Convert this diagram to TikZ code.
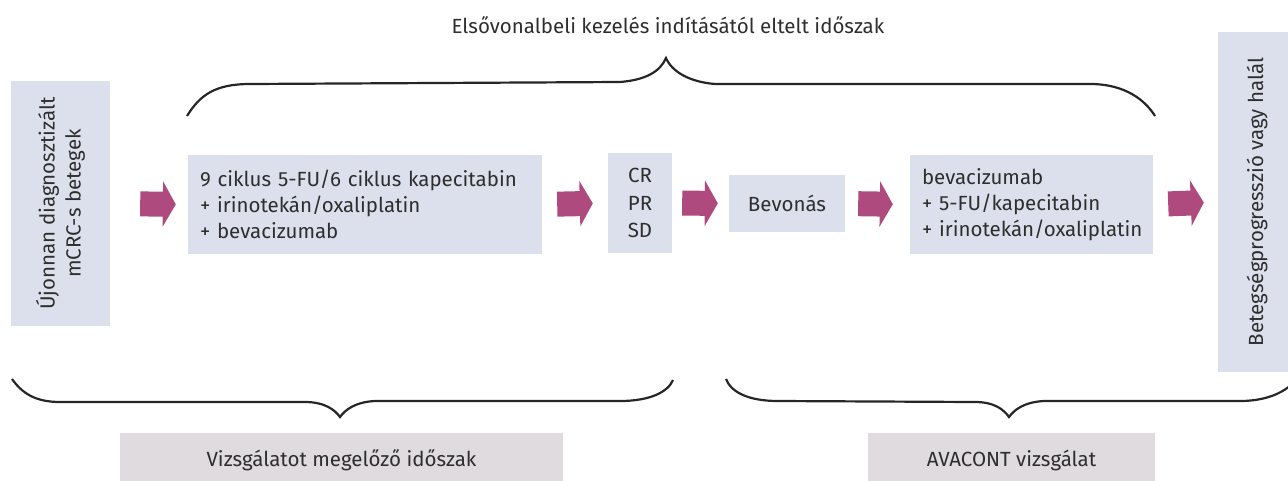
\documentclass[tikz,border=0pt]{standalone}
\usepackage{fontspec}
\setmainfont{Fira Sans}
\usetikzlibrary{arrows.meta}
\definecolor{boxblue}{HTML}{DCE0EC}
\definecolor{boxrose}{HTML}{E0DBDF}
\definecolor{arrowmag}{HTML}{AE4A7E}
\definecolor{txt}{HTML}{2E2E2E}

\begin{document}
\begin{tikzpicture}[x=1pt, y=-1pt, text=txt,
  font=\fontsize{20.5}{26}\selectfont,
  box/.style={fill=boxblue, inner sep=0pt},
  label box/.style={fill=boxrose, inner sep=0pt, minimum height=54pt},
  bigarrow/.style={arrowmag, line width=25pt,
    -{Triangle[length=13pt, width=45pt]}},
  curly/.style={line width=2.2pt, black!85}]
\useasboundingbox (0,0) rectangle (1288,480);

\node [box, rotate=90, minimum width=245pt, minimum height=99pt, align=center] (b1) at (60.5,203.5) {Újonnan diagnosztizált\\mCRC-s betegek};
\node [box, minimum width=354pt, minimum height=99pt, text width=330pt, align=left] (b2) at (365,204.5) {9~ciklus 5-FU/6 ciklus kapecitabin\\+~irinotekán/oxaliplatin\\+~bevacizumab};
\node [box, minimum width=64pt, minimum height=100pt, align=center, font=\fontsize{20.5}{27.5}\selectfont] (b3) at (640,203) {CR\\PR\\SD};
\node [box, minimum width=116pt, minimum height=57pt] (b4) at (787,203.5) {Bevonás};
\node [box, minimum width=243pt, minimum height=99pt, text width=219pt, align=left] (b5) at (1031.5,204.5) {bevacizumab\\+~5-FU/kapecitabin\\+~irinotekán/oxaliplatin};
\node [box, rotate=90, minimum width=340pt, minimum height=78pt] (b6) at (1257,202) {Betegségprogresszió vagy halál};

\draw[bigarrow, shorten <=30pt, shorten >=12pt] (b1.south) -- (b2.west);
\draw[bigarrow, shorten <=15pt, shorten >=15pt] (b2.east) -- (b3.west);
\draw[bigarrow, shorten <=10pt, shorten >=11pt] (b3.east) -- (b4.west);
\draw[bigarrow, shorten <=13pt, shorten >=17pt] (b4.east) -- (b5.west);
\draw[bigarrow, shorten <=15pt, shorten >=14pt] (b5.east) -- (b6.north);

% braces
\draw[curly] (187,116) .. controls (200,95) and (215,84) .. (250,84) -- (620,82)
  .. controls (645,80) and (660,72) .. (666,58)
  .. controls (672,72) and (690,82) .. (715,84) -- (1090,84)
  .. controls (1125,84) and (1145,100) .. (1155,116);
\draw[curly] (12,379) .. controls (22,393) and (35,402) .. (60,402) -- (305,402)
  .. controls (325,402) and (335,410) .. (340,417)
  .. controls (345,410) and (355,402) .. (375,401) -- (620,401)
  .. controls (650,401) and (668,392) .. (673,380);
\draw[curly] (726,379) .. controls (731,392) and (748,401) .. (778,401) -- (975,402)
  .. controls (995,402) and (1004,410) .. (1009,417)
  .. controls (1014,410) and (1024,402) .. (1044,401) -- (1240,401)
  .. controls (1270,401) and (1290,390) .. (1300,375);

\node (t1) at (668,25) {Elsővonalbeli kezelés indításától eltelt időszak};
\node [label box, minimum width=443pt] (l1) at (341.5,460) {Vizsgálatot megelőző időszak};
\node [label box, minimum width=287pt] (l2) at (1011.5,460) {AVACONT vizsgálat};
\end{tikzpicture}
\end{document}
